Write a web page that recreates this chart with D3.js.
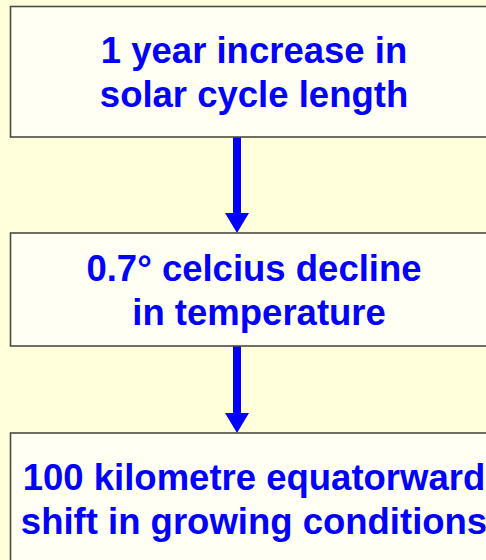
<!DOCTYPE html>
<html>
<head>
<meta charset="utf-8">
<script src="https://cdn.jsdelivr.net/npm/d3@7"></script>
<style>
  html, body { margin: 0; padding: 0; background: #ffffdc; overflow: hidden; }
</style>
</head>
<body>
<div id="vis"></div>
<script>
// flow steps, one array of lines per box
const stepLines = [
  ["1 year increase in", "solar cycle length"],
  ["0.7\u00b0 celcius decline", " in temperature"],
  ["100 kilometre equatorward", "shift in growing conditions"]
];

//#region layout
const width = 486, height = 560;
const boxX = 10.5, boxW = 490;
const boxTops = [6.5, 233, 433];
const boxBottoms = [137, 346, 580];
const textCx = 254;
const arrowX = 237;
const lineGap = 44;
const blue = "#0000ff";
//#endregion

const svg = d3.select("#vis")
  .append("svg")
    .attr("width", width)
    .attr("height", height)
    .style("display", "block");

svg.append("rect")
  .attr("width", width)
  .attr("height", height)
  .attr("fill", "#ffffdc");

// arrows between boxes
const arrows = d3.range(stepLines.length - 1).map(i => ({ y0: boxBottoms[i], y1: boxTops[i + 1] }));

svg.append("g")
  .selectAll("rect")
  .data(arrows)
  .join("rect")
    .attr("x", arrowX - 4)
    .attr("y", d => d.y0)
    .attr("width", 8)
    .attr("height", d => d.y1 - d.y0 - 19)
    .attr("fill", blue);

svg.append("g")
  .selectAll("path")
  .data(arrows)
  .join("path")
    .attr("d", d => `M${arrowX - 12},${d.y1 - 20}L${arrowX + 12},${d.y1 - 20}L${arrowX},${d.y1}Z`)
    .attr("fill", blue);

// boxes
const boxes = svg.append("g")
  .selectAll("g")
  .data(stepLines)
  .join("g");

boxes.append("rect")
  .attr("x", boxX)
  .attr("y", (d, i) => boxTops[i])
  .attr("width", boxW)
  .attr("height", (d, i) => boxBottoms[i] - boxTops[i])
  .attr("fill", "#fffff4")
  .attr("stroke", "#4a4a44")
  .attr("stroke-width", 1.6);

const firstBaseline = [63, 281, 490];

boxes.each(function(lines, i) {
  d3.select(this).selectAll("text")
    .data(lines)
    .join("text")
      .attr("x", textCx)
      .attr("y", (d, j) => firstBaseline[i] + j * lineGap)
      .attr("text-anchor", "middle")
      .attr("xml:space", "preserve")
      .style("white-space", "pre")
      .attr("font-family", "'Liberation Sans', Arial, sans-serif")
      .attr("font-weight", "bold")
      .attr("font-size", 36.5)
      .attr("fill", blue)
      .text(d => d);
});
</script>
</body>
</html>
